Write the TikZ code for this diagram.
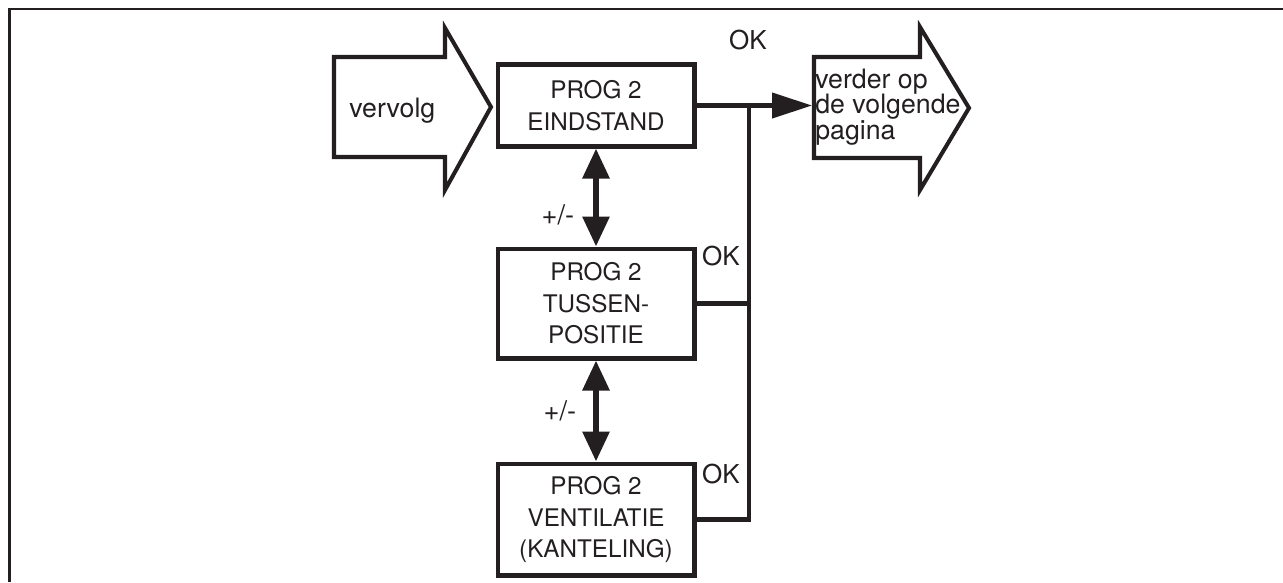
\documentclass[tikz,border=0pt]{standalone}
\usepackage{fontspec}
\setmainfont{TeX Gyre Heros}
\usetikzlibrary{arrows.meta,positioning}
\definecolor{inkK}{RGB}{35,31,32}

\begin{document}
\begin{tikzpicture}[x=0.02cm,y=-0.02cm]
  \tikzset{prog/.style={draw=inkK,line width=2.3pt,minimum width=3.94cm,inner sep=1pt,align=center,text=inkK,font=\fontsize{13.8}{17.9}\selectfont},
    lbl/.style={text=inkK,font=\fontsize{15.2}{14.5}\selectfont},
    caps/.style={text=inkK,font=\fontsize{14.8}{17.9}\selectfont},
    big/.style={draw=inkK,line width=2.3pt},
    bus/.style={draw=inkK,line width=2.3pt},
    dbl/.style={draw=inkK,line width=3.4pt,{Triangle[length=0.6cm,width=0.52cm]}-{Triangle[length=0.6cm,width=0.52cm]}}}
  \useasboundingbox (0,0) rectangle (1283,582);
  \draw[draw=inkK,line width=1.7pt] (9.5,582) -- (9.5,9) -- (1283,9);
  % grote pijlen in en uit
  \draw[big] (334,57) -- (445,57) -- (445,28) -- (491,107) -- (445,190) -- (445,157) -- (334,157) -- cycle;
  \node[lbl,anchor=west,inner sep=0pt] (in) at (349,111) {vervolg};
  \draw[big] (814,57) -- (920,57) -- (920,27) -- (969,108) -- (920,190) -- (920,158) -- (814,158) -- cycle;
  \node[lbl,anchor=west,align=left,inner sep=0pt] (next) at (815,107) {verder op\\de volgende\\pagina};
  \coordinate (uit) at (812,105);
  \coordinate (knoop) at (749,105);
  % programmastappen
  \node[prog,minimum height=1.64cm] (eind) at (596,105.5) {PROG 2\\EINDSTAND};
  \node[prog,minimum height=2.2cm,below=1.96cm of eind] (tussen) {PROG 2\\TUSSEN-\\POSITIE};
  \node[prog,minimum height=2.24cm,below=2.02cm of tussen] (vent) {PROG 2\\VENTILATIE\\(KANTELING)};
  \draw[dbl] (eind.south) -- (tussen.north);
  \draw[dbl] (tussen.south) -- (vent.north);
  \node[caps,font=\fontsize{15.5}{17.9}\selectfont] (pm1) at (558,215) {+/-};
  \node[caps,font=\fontsize{15.5}{17.9}\selectfont] (pm2) at (560,411) {+/-};
  % OK-lijnen
  \draw[bus,-{Triangle[length=0.8cm,width=0.5cm]}] (eind.east) -- (eind.east -| uit);
  \draw[bus] (vent.east) -- (vent.east -| knoop) -- (knoop);
  \draw[bus] (tussen.east) -- (tussen.east -| knoop);
  \node[caps] (ok1) at (748,40) {OK};
  \node[caps] (ok2) at (721,256) {OK};
  \node[caps] (ok3) at (721,474) {OK};
\end{tikzpicture}
\end{document}
